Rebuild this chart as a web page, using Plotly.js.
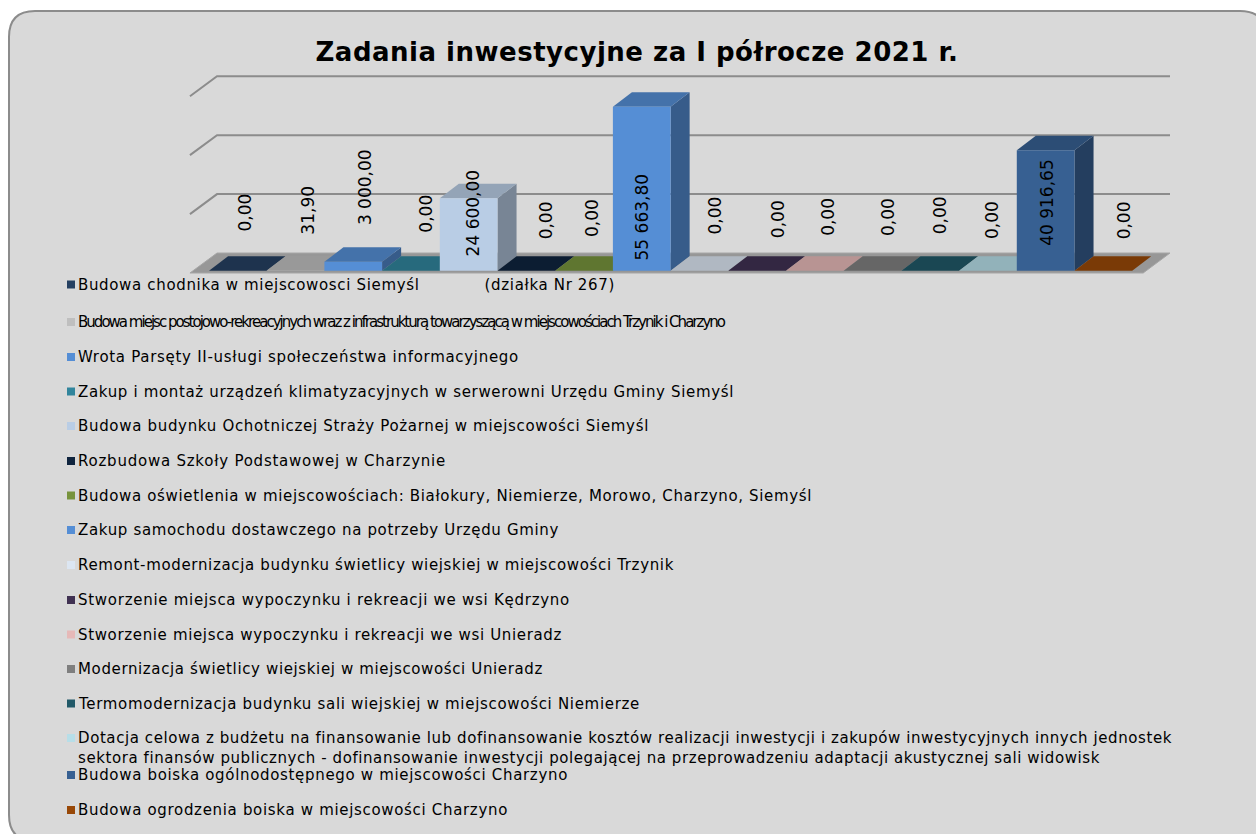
<!DOCTYPE html>
<html><head><meta charset="utf-8">
<script src="https://cdn.plot.ly/plotly-3.0.1.min.js"></script>
<style>html,body{margin:0;padding:0;background:#fff}#c{width:1256px;height:834px}</style>
</head><body><div id="c"></div>
<script>
const titleText = "Zadania inwestycyjne za I półrocze 2021 r.";
const categories = [
 "Budowa chodnika w miejscowosci Siemyśl\u00a0\u00a0\u00a0\u00a0\u00a0\u00a0\u00a0\u00a0\u00a0\u00a0\u00a0\u00a0(działka Nr 267)",
 "Budowa miejsc postojowo-rekreacyjnych wraz z infrastrukturą towarzyszącą w miejscowościach Trzynik i Charzyno",
 "Wrota Parsęty II-usługi społeczeństwa informacyjnego",
 "Zakup i montaż urządzeń klimatyzacyjnych w serwerowni Urzędu Gminy Siemyśl",
 "Budowa budynku Ochotniczej Straży Pożarnej w miejscowości Siemyśl",
 "Rozbudowa Szkoły Podstawowej w Charzynie",
 "Budowa oświetlenia w miejscowościach: Białokury, Niemierze, Morowo, Charzyno, Siemyśl",
 "Zakup samochodu dostawczego na potrzeby Urzędu Gminy",
 "Remont-modernizacja budynku świetlicy wiejskiej w miejscowości Trzynik",
 "Stworzenie miejsca wypoczynku i rekreacji we wsi Kędrzyno",
 "Stworzenie miejsca wypoczynku i rekreacji we wsi Unieradz",
 "Modernizacja świetlicy wiejskiej w miejscowości Unieradz",
 "Termomodernizacja budynku sali wiejskiej w miejscowości Niemierze",
 "Dotacja celowa z budżetu na finansowanie lub dofinansowanie kosztów realizacji inwestycji i zakupów inwestycyjnych innych jednostek|sektora finansów publicznych - dofinansowanie inwestycji polegającej na przeprowadzeniu adaptacji akustycznej sali widowisk",
 "Budowa boiska ogólnodostępnego w miejscowości Charzyno",
 "Budowa ogrodzenia boiska w miejscowości Charzyno"
];
const values = [0, 31.9, 3000, 0, 24600, 0, 0, 55663.8, 0, 0, 0, 0, 0, 0, 40916.65, 0];
const colors = ["#254061","#bfbfbf","#558ed5","#31859c","#b9cde5","#0f243e","#77933c","#558ed5",
                "#dce6f2","#403152","#e6b9b8","#7f7f7f","#215968","#b7dee8","#376092","#984807"];
const gridValues = [20000, 40000, 60000];

// layout-only tuning (pixels)
const labelShiftX = [7,12.5,12,15,4,20,8,0,16,21,13,15.5,10,4,2,21];
const labelShiftY = [58,60,75,57,-14.5,50.7,52.7,-110,55.7,51.7,53.7,53.7,55.7,50.7,-52,50.7];
const legendRowY = [284.5,322,357,391.5,426,461,495.5,530,565,600,634.5,669,703.5,748,775,810];
const legendWidths = [[537],[646],[441],[656],[571],[368],[734],[481],[596],[492],[484],[465],[561],[1094,1022],[490],[430]];

const W = 1256, H = 834;
const px = x => x / W, py = y => 1 - y / H;
const ctx = document.createElement('canvas').getContext('2d');
function spaced(text, font, target) {
  ctx.font = font;
  const ls = (target - ctx.measureText(text).width) / text.length;
  return `<span style="letter-spacing:${ls.toFixed(3)}px">${text}</span>`;
}
function shade(hex, k) {
  const n = parseInt(hex.slice(1), 16);
  const c = [n >> 16 & 255, n >> 8 & 255, n & 255].map(v => Math.round(v * k));
  return `rgb(${c[0]},${c[1]},${c[2]})`;
}
const fmt = v => {
  const [a, b] = v.toFixed(2).split('.');
  return a.replace(/\B(?=(\d{3})+$)/g, '\u00a0') + ',' + b;
};

const catW = 57.7, x0 = 209, yUnit = 0.002946, y0 = 270.7;
const xRange = [(180 - x0) / catW, (1180 - x0) / catW];
const yRange = [(y0 - 290) / yUnit, (y0 - 60) / yUnit];
const dX = 0.33, dY = 4920;                // bar depth in axis units
const wallX0 = -0.33, wallX1 = 0.139, wallX2 = 16.655, wallY0 = -780, wallY1 = 6000, floorX3 = 16.19;

const poly = (xs, ys, color) => ({type:'scatter', mode:'lines', x:[...xs, xs[0]], y:[...ys, ys[0]],
  fill:'toself', fillcolor:color, line:{width:0, color:color}, hoverinfo:'skip', showlegend:false, xaxis:'x', yaxis:'y'});

const traces = [];
// grid: side wall + back wall
gridValues.forEach(v => traces.push({type:'scatter', mode:'lines',
  x:[wallX0, wallX1, wallX2], y:[v + wallY0, v + wallY1, v + wallY1],
  line:{color:'#8c8c8c', width:2}, hoverinfo:'skip', showlegend:false}));
// floor
const floor = poly([wallX0, wallX1, wallX2, floorX3], [wallY0, wallY1, wallY1, wallY0], '#979797');
floor.line = {width:1, color:'#a6a6a6'};
traces.push(floor);
// side and top faces
values.forEach((v, i) => {
  if (v > 0) traces.push(poly([i+1, i+1+dX, i+1+dX, i+1], [0, dY, v+dY, v], shade(colors[i], 0.65)));
  traces.push(poly([i, i+1, i+1+dX, i+dX], [v, v, v+dY, v+dY], shade(colors[i], 0.8)));
});
// front faces: real bars on an overlaying axis so they sit above all depth faces
traces.push({type:'bar', x:values.map((_, i) => i + 0.5), y:values, width:1, yaxis:'y2', xaxis:'x',
  marker:{color:colors, line:{width:0}}, showlegend:false, hoverinfo:'skip'});

const labelFont = {family:'"DejaVu Sans", sans-serif', size:17, color:'#000'};
const annotations = values.map((v, i) => ({xref:'x', yref:'y', x:i + 0.5, y:v, text:fmt(v), textangle:-90,
  showarrow:false, xanchor:'center', yanchor:'middle', xshift:labelShiftX[i], yshift:labelShiftY[i], font:labelFont}));

const legendFontCss = '15px "DejaVu Sans"';
const shapes = [{type:'path', xref:'paper', yref:'paper', layer:'below',
  path:`M ${px(9)} ${py(37)} Q ${px(9)} ${py(11)} ${px(35)} ${py(11)} L ${px(1240)} ${py(11)} Q ${px(1266)} ${py(11)} ${px(1266)} ${py(37)} L ${px(1266)} ${py(815)} Q ${px(1266)} ${py(841)} ${px(1240)} ${py(841)} L ${px(35)} ${py(841)} Q ${px(9)} ${py(841)} ${px(9)} ${py(815)} Z`,
  fillcolor:'#d9d9d9', line:{color:'#8c8c8c', width:2}}];
categories.forEach((c, i) => {
  const lines = c.split('|');
  const txt = lines.map((l, k) => spaced(l, legendFontCss, legendWidths[i][k])).join('<br>');
  const swatchY = i === 13 ? 738 : legendRowY[i];
  shapes.push({type:'rect', xref:'paper', yref:'paper', x0:px(67), x1:px(75), y0:py(swatchY - 4), y1:py(swatchY + 4),
    fillcolor:colors[i], line:{width:0}});
  annotations.push({xref:'paper', yref:'paper', x:px(75.5), y:py(legendRowY[i]), text:txt, showarrow:false,
    xanchor:'left', yanchor:'middle', align:'left', font:{family:'"DejaVu Sans", sans-serif', size:15, color:'#000'}});
});

const layout = {
  width:W, height:H, margin:{l:0, r:0, t:0, b:0}, paper_bgcolor:'#ffffff', plot_bgcolor:'rgba(0,0,0,0)',
  showlegend:false, barmode:'overlay',
  title:{text:spaced(titleText, 'bold 26px "DejaVu Sans"', 643), x:px(637), y:py(52), xref:'paper', yref:'paper',
         xanchor:'center', yanchor:'middle', font:{family:'"DejaVu Sans", sans-serif', size:26, color:'#000', weight:700}},
  xaxis:{domain:[px(180), px(1180)], range:xRange, visible:false, fixedrange:true},
  yaxis:{domain:[py(290), py(60)], range:yRange, visible:false, fixedrange:true},
  yaxis2:{overlaying:'y', range:yRange, visible:false, fixedrange:true},
  shapes, annotations
};
Plotly.newPlot('c', traces, layout, {displayModeBar:false, staticPlot:true});
</script></body></html>
